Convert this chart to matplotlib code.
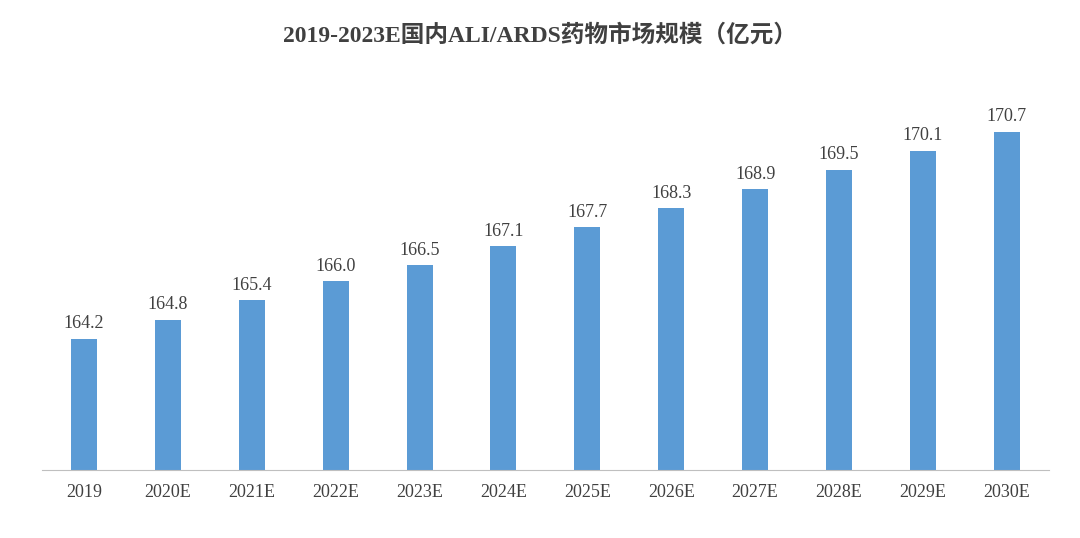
import matplotlib
matplotlib.use("Agg")
import matplotlib.pyplot as plt

years = ["2019", "2020E", "2021E", "2022E", "2023E", "2024E", "2025E",
         "2026E", "2027E", "2028E", "2029E", "2030E"]
values = [164.2, 164.8, 165.4, 166.0, 166.5, 167.1, 167.7,
          168.3, 168.9, 169.5, 170.1, 170.7]

fig = plt.figure(figsize=(10.8, 5.38), dpi=100)
ax = fig.add_axes([0.039, 0.126, 0.932, 0.736])
x = range(len(years))
ax.bar(x, values, width=0.31, color="#5b9bd5")
ax.set_ylim(160.07, 172.5)
ax.set_xlim(-0.5, len(years) - 0.5)
for i, v in zip(x, values):
    ax.text(i, v + 0.2, f"{v:.1f}", ha="center", va="bottom",
            fontsize=13, family="Liberation Serif", color="#404040")
ax.set_xticks(list(x))
ax.set_xticklabels(years, family="Liberation Serif", fontsize=13, color="#404040")
ax.tick_params(axis="x", length=0, pad=10)
ax.set_yticks([])
for s in ["top", "right", "left"]:
    ax.spines[s].set_visible(False)
ax.spines["bottom"].set_color("#bfbfbf")
fig.text(0.5, 0.935, "2019-2023E国内ALI/ARDS药物市场规模（亿元）", ha="center",
         va="center", fontsize=17, fontweight="bold", color="#404040",
         family=["Liberation Serif", "Noto Sans CJK SC"])
fig.savefig("out.png", dpi=100)
